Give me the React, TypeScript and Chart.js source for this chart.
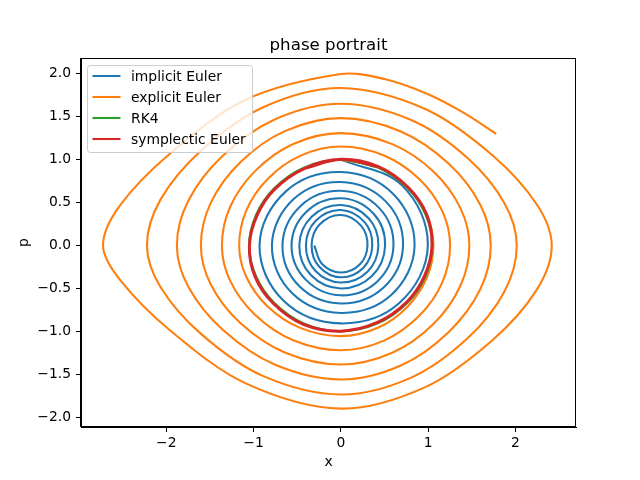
import React, { useEffect, useRef } from "react";
import { Chart, registerables } from "chart.js";

Chart.register(...registerables);

const seriesLabels = ["implicit Euler", "explicit Euler", "RK4", "symplectic Euler"];
const seriesColors = ["#1f77b4", "#ff7f0e", "#2ca02c", "#d62728"];

const implicitX = [0, 0.70, 0.997, 0.67, 0, -0.65, -0.932, -0.63, 0, 0.60, 0.845, 0.577, 0, -0.557, -0.79, -0.541, 0, 0.514, 0.713, 0.49, 0, -0.475, -0.669, -0.461, 0, 0.438, 0.603, 0.418, 0, -0.40, -0.565, -0.394, 0, 0.373, 0.507, 0.356, 0, -0.344, -0.476, -0.335, 0, 0.318, 0.43, 0.305, 0, -0.293, -0.40, -0.288, 0, 0.272, 0.36, 0.258, 0, -0.247, -0.335, -0.244, 0, 0.231, 0.305, 0.219, 0, -0.215, -0.305];
const implicitP = [1.0, 0.70, 0, -0.67, -0.907, -0.65, 0, 0.63, 0.855, 0.60, 0, -0.577, -0.785, -0.557, 0, 0.541, 0.74, 0.514, 0, -0.49, -0.675, -0.475, 0, 0.461, 0.637, 0.438, 0, -0.418, -0.58, -0.40, 0, 0.394, 0.55, 0.373, 0, -0.356, -0.50, -0.344, 0, 0.335, 0.472, 0.318, 0, -0.305, -0.43, -0.293, 0, 0.288, 0.414, 0.272, 0, -0.258, -0.37, -0.247, 0, 0.244, 0.356, 0.231, 0, -0.219, -0.315, -0.215, 0];

const explicitX = [0, 0.424, 0.764, 0.987, 1.061, 0.987, 0.764, 0.424, 0, -0.466, -0.839, -1.084, -1.165, -1.084, -0.839, -0.466, 0, 0.501, 0.901, 1.164, 1.252, 1.164, 0.901, 0.501, 0, -0.545, -0.981, -1.268, -1.363, -1.268, -0.981, -0.545, 0, 0.589, 1.061, 1.370, 1.473, 1.370, 1.061, 0.589, 0, -0.642, -1.155, -1.492, -1.604, -1.492, -1.155, -0.642, 0, 0.687, 1.237, 1.598, 1.718, 1.598, 1.237, 0.687, 0, -0.752, -1.353, -1.748, -1.879, -1.748, -1.353, -0.752, 0, 0.806, 1.452, 1.875, 2.016, 1.875, 1.452, 0.806, 0, -0.889, -1.600, -2.067, -2.222, -2.067, -1.600, -0.889, 0, 0.967, 1.740, 2.248, 2.417, 2.248, 1.740, 0.967, 0, -1.090, -1.963, -2.535, -2.726, -2.535, -1.963, -1.090, 0, 0.5, 1.0, 1.4, 1.78];
const explicitP = [1.0, 0.910, 0.675, 0.347, 0, -0.371, -0.712, -0.958, -1.055, -0.959, -0.710, -0.364, 0, 0.406, 0.775, 1.044, 1.152, 1.045, 0.771, 0.397, 0, -0.426, -0.816, -1.104, -1.219, -1.103, -0.809, -0.412, 0, 0.451, 0.869, 1.182, 1.308, 1.180, 0.861, 0.435, 0, -0.469, -0.914, -1.248, -1.385, -1.245, -0.899, -0.450, 0, 0.494, 0.967, 1.332, 1.483, 1.328, 0.952, 0.475, 0, -0.510, -1.006, -1.397, -1.560, -1.389, -0.981, -0.479, 0, 0.522, 1.045, 1.470, 1.650, 1.461, 1.019, 0.493, 0, -0.535, -1.081, -1.538, -1.735, -1.521, -1.032, -0.483, 0, 0.534, 1.106, 1.610, 1.833, 1.589, 1.048, 0.474, 0, -0.511, -1.100, -1.649, -1.899, -1.605, -0.983, -0.394, 0, 0.461, 1.066, 1.697, 1.996, 1.938, 1.761, 1.549, 1.30];

const rk4X = [-0.424, 0, 0.424, 0.764, 0.97, 1.047, 0.97, 0.764, 0.424, 0, -0.424, -0.764, -0.97, -1.052, -0.97, -0.764, -0.424, 0, 0.424];
const rk4P = [0.907, 1.0, 0.907, 0.667, 0.361, 0, -0.361, -0.667, -0.907, -1.0, -0.907, -0.667, -0.361, 0, 0.361, 0.667, 0.907, 1.0, 0.907];

const symplecticX = [-0.419, 0, 0.429, 0.773, 0.982, 1.045, 0.958, 0.755, 0.419, 0, -0.429, -0.773, -0.982, -1.048, -0.958, -0.755, -0.419, 0, 0.429];
const symplecticP = [0.896, 1.003, 0.918, 0.675, 0.365, 0, -0.357, -0.659, -0.896, -0.997, -0.918, -0.675, -0.365, 0, 0.357, 0.659, 0.896, 1.003, 0.918];

const xTicks = [-2, -1, 0, 1, 2];
const yTicks = [-2, -1.5, -1, -0.5, 0, 0.5, 1, 1.5, 2];

const FONT = "'DejaVu Sans', sans-serif";

function zip(xs: number[], ys: number[]) {
  return xs.map((x, i) => ({ x, y: ys[i] }));
}

function minus(s: string) {
  return s.replace("-", "\u2212");
}

const framePlugin = {
  id: "frame",
  afterDatasetsDraw(chart: any) {
    const { ctx, chartArea } = chart;
    ctx.save();
    ctx.strokeStyle = "#000";
    ctx.lineWidth = 1;
    ctx.strokeRect(
      Math.round(chartArea.left) - 0.5,
      Math.round(chartArea.top) + 0.5,
      Math.round(chartArea.right - chartArea.left),
      Math.round(chartArea.bottom - chartArea.top) - 1
    );
    ctx.restore();
  },
};

const titlePlugin = {
  id: "mtitle",
  afterDraw(chart: any) {
    const { ctx, chartArea } = chart;
    ctx.save();
    ctx.fillStyle = "#000";
    ctx.font = `16.67px ${FONT}`;
    ctx.textAlign = "center";
    ctx.textBaseline = "alphabetic";
    ctx.fillText("phase portrait", (chartArea.left + chartArea.right) / 2, chartArea.top - 8.5);
    ctx.restore();
  },
};

const legendPlugin = {
  id: "mlegend",
  afterDraw(chart: any) {
    const { ctx } = chart;
    const x0 = 87.5, y0 = 65.5, w = 165, h = 87, r = 3;
    ctx.save();
    ctx.beginPath();
    ctx.moveTo(x0 + r, y0);
    ctx.lineTo(x0 + w - r, y0);
    ctx.arcTo(x0 + w, y0, x0 + w, y0 + r, r);
    ctx.lineTo(x0 + w, y0 + h - r);
    ctx.arcTo(x0 + w, y0 + h, x0 + w - r, y0 + h, r);
    ctx.lineTo(x0 + r, y0 + h);
    ctx.arcTo(x0, y0 + h, x0, y0 + h - r, r);
    ctx.lineTo(x0, y0 + r);
    ctx.arcTo(x0, y0, x0 + r, y0, r);
    ctx.closePath();
    ctx.fillStyle = "rgba(255,255,255,0.8)";
    ctx.fill();
    ctx.strokeStyle = "#cccccc";
    ctx.lineWidth = 1;
    ctx.stroke();
    ctx.font = `13.89px ${FONT}`;
    ctx.textAlign = "left";
    ctx.textBaseline = "middle";
    seriesLabels.forEach((label, i) => {
      const y = 76 + i * 21;
      ctx.strokeStyle = seriesColors[i];
      ctx.lineWidth = 2.08;
      ctx.beginPath();
      ctx.moveTo(92.5, y);
      ctx.lineTo(120.5, y);
      ctx.stroke();
      ctx.fillStyle = "#000";
      ctx.fillText(label, 131, y + 1);
    });
    ctx.restore();
  },
};

export default function App() {
  const ref = useRef<HTMLCanvasElement>(null);
  useEffect(() => {
    const canvas = ref.current!;
    const tickFont = { family: FONT, size: 13.89 };
    const chart = new Chart(canvas, {
      type: "scatter",
      data: {
        datasets: [
          { label: seriesLabels[0], data: zip(implicitX, implicitP), borderColor: seriesColors[0], borderWidth: 2.08, showLine: true, tension: 0.375, pointRadius: 0, order: 3 },
          { label: seriesLabels[1], data: zip(explicitX, explicitP), borderColor: seriesColors[1], borderWidth: 2.08, showLine: true, tension: 0.33, pointRadius: 0, order: 2 },
          { label: seriesLabels[2], data: zip(rk4X, rk4P), borderColor: seriesColors[2], borderWidth: 2.08, showLine: true, tension: 0.34, pointRadius: 0, order: 1 },
          { label: seriesLabels[3], data: zip(symplecticX, symplecticP), borderColor: seriesColors[3], borderWidth: 3, showLine: true, tension: 0.34, pointRadius: 0, order: 0 },
        ],
      } as any,
      options: {
        responsive: false,
        animation: false,
        devicePixelRatio: 1,
        events: [],
        layout: { padding: { left: 0, top: 58, right: 64, bottom: 0 } },
        plugins: { legend: { display: false }, tooltip: { enabled: false }, title: { display: false } },
        scales: {
          x: {
            type: "linear",
            min: -2.978,
            max: 2.695,
            afterFit: (s: any) => { s.height = 53; },
            afterBuildTicks: (s: any) => { s.ticks = xTicks.map((v) => ({ value: v })); },
            ticks: { callback: (v: any) => minus(String(v)), font: tickFont, color: "#000", padding: 3, maxRotation: 0, autoSkip: false },
            grid: { display: true, drawOnChartArea: false, drawTicks: true, tickLength: 5, color: "#000" },
            border: { display: true, color: "#000", width: 1 },
            title: { display: true, text: "x", font: tickFont, color: "#000", padding: { top: 0, bottom: 9.6 } },
          },
          y: {
            type: "linear",
            min: -2.113,
            max: 2.183,
            afterFit: (s: any) => { s.width = 81; },
            afterBuildTicks: (s: any) => { s.ticks = yTicks.map((v) => ({ value: v })); },
            ticks: { callback: (v: any) => minus(Number(v).toFixed(1)), font: tickFont, color: "#000", padding: 5, autoSkip: false },
            grid: { display: true, drawOnChartArea: false, drawTicks: true, tickLength: 5, color: "#000" },
            border: { display: true, color: "#000", width: 1 },
            title: { display: true, text: "p", font: tickFont, color: "#000", padding: { top: 15.6, bottom: 0 } },
          },
        },
      } as any,
      plugins: [framePlugin, titlePlugin, legendPlugin],
    });
    return () => chart.destroy();
  }, []);
  return (
    <div style={{ position: "fixed", left: 0, top: 0, width: 640, height: 480, background: "#fff" }}>
      <canvas ref={ref} width={640} height={480} style={{ display: "block", width: 640, height: 480 }} />
    </div>
  );
}
